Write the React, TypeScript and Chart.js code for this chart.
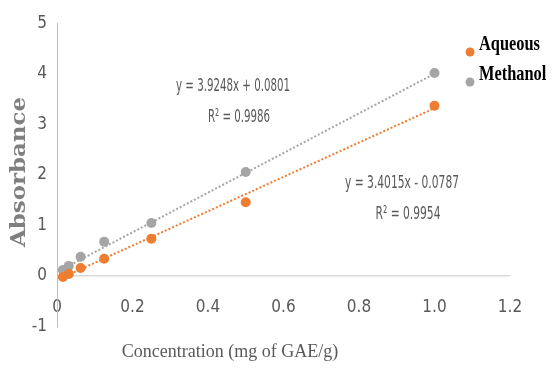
import React, { useEffect, useRef } from "react";
import { Chart, registerables } from "chart.js";

Chart.register(...registerables);

// Data
const concentrations = [0.015625, 0.03125, 0.0625, 0.125, 0.25, 0.5, 1];
const aqueousValues = [-0.02, 0.04, 0.16, 0.34, 0.74, 1.46, 3.37];
const methanolValues = [0.12, 0.2, 0.38, 0.68, 1.05, 2.06, 4.02];

const seriesLabels = ["Aqueous", "Methanol"];
const seriesColors = ["#ED7D31", "#A5A5A5"];

// Trendline coefficients as shown in the chart's equations
const aqueousFit = { slope: 3.4015, intercept: -0.0787 };
const methanolFit = { slope: 3.9248, intercept: 0.0801 };
const aqueousEquation = ["y = 3.4015x - 0.0787", "R² = 0.9954"];
const methanolEquation = ["y = 3.9248x + 0.0801", "R² = 0.9986"];

const xTitle = "Concentration (mg of GAE/g)";
const yTitle = "Absorbance";

const xTicks = { min: 0, max: 1.2, step: 0.2 };
const yTicks = { min: -1, max: 5, step: 1 };

const TICK_FAMILY = '"DejaVu Sans Condensed"';

function trend(fit: { slope: number; intercept: number }) {
  const x0 = concentrations[0];
  const x1 = concentrations[concentrations.length - 1];
  return [
    { x: x0, y: fit.slope * x0 + fit.intercept },
    { x: x1, y: fit.slope * x1 + fit.intercept },
  ];
}

const textPlugin = {
  id: "textOverlay",
  afterDraw(chart: any) {
    const ctx = chart.ctx as CanvasRenderingContext2D;

    // Y title
    ctx.save();
    ctx.translate(20, 172);
    ctx.rotate(-Math.PI / 2);
    ctx.font = 'bold 20px "DejaVu Serif"';
    ctx.fillStyle = "#7F7F7F";
    ctx.textAlign = "center";
    ctx.textBaseline = "middle";
    const w = ctx.measureText(yTitle).width;
    ctx.scale(150 / w, 1);
    ctx.fillText(yTitle, 0, 0);
    ctx.restore();

    // X title
    ctx.save();
    ctx.font = '18px "Liberation Serif"';
    ctx.fillStyle = "#595959";
    ctx.textAlign = "center";
    ctx.textBaseline = "middle";
    ctx.fillText(xTitle, 230, 352);
    ctx.restore();

    // Equations
    const drawEq = (lines: string[], cx: number, cy: number) => {
      ctx.save();
      ctx.font = '18px "DejaVu Sans Condensed"';
      ctx.fillStyle = "#595959";
      ctx.textAlign = "center";
      ctx.textBaseline = "middle";
      const s = 114 / ctx.measureText(lines[0]).width;
      ctx.save();
      ctx.translate(cx, cy);
      ctx.scale(s, 1);
      ctx.fillText(lines[0], 0, 0);
      ctx.restore();
      ctx.save();
      ctx.translate(cx + 6, cy + 31);
      ctx.scale(s, 1);
      ctx.fillText(lines[1], 0, 0);
      ctx.restore();
      ctx.restore();
    };
    drawEq(methanolEquation, 233, 86);
    drawEq(aqueousEquation, 402, 183);

    // Legend
    const legendY = [45, 75];
    seriesLabels.forEach((label, i) => {
      ctx.save();
      ctx.fillStyle = seriesColors[i];
      ctx.beginPath();
      ctx.arc(470, legendY[i] + 7, 4.5, 0, Math.PI * 2);
      ctx.fill();
      ctx.font = 'bold 21px "Liberation Serif"';
      ctx.fillStyle = "#000000";
      ctx.textAlign = "left";
      ctx.textBaseline = "middle";
      ctx.translate(479, legendY[i]);
      ctx.scale(0.78, 1);
      ctx.fillText(label, 0, 0);
      ctx.restore();
    });
  },
};

export default function App() {
  const canvasRef = useRef<HTMLCanvasElement | null>(null);

  useEffect(() => {
    document.body.style.margin = "0";
    const canvas = canvasRef.current;
    if (!canvas) return;
    const chart = new Chart(canvas, {
      type: "scatter",
      data: {
        datasets: [
          {
            label: seriesLabels[0],
            data: concentrations.map((x, i) => ({ x, y: aqueousValues[i] })),
            backgroundColor: seriesColors[0],
            borderColor: seriesColors[0],
            pointRadius: 5,
            pointBorderWidth: 0,
            showLine: false,
            order: 1,
          },
          {
            label: seriesLabels[1],
            data: concentrations.map((x, i) => ({ x, y: methanolValues[i] })),
            backgroundColor: seriesColors[1],
            borderColor: seriesColors[1],
            pointRadius: 5,
            pointBorderWidth: 0,
            showLine: false,
            order: 1,
          },
          {
            label: "Aqueous trend",
            data: trend(aqueousFit),
            borderColor: seriesColors[0],
            borderWidth: 2,
            borderDash: [2, 2],
            pointRadius: 0,
            showLine: true,
            order: 2,
          },
          {
            label: "Methanol trend",
            data: trend(methanolFit),
            borderColor: seriesColors[1],
            borderWidth: 2,
            borderDash: [2, 2],
            pointRadius: 0,
            showLine: true,
            order: 2,
          },
        ],
      },
      options: {
        responsive: false,
        animation: false,
        devicePixelRatio: 1,
        layout: { padding: { top: 23.5, bottom: 42.5, right: 42, left: 0 } },
        plugins: {
          legend: { display: false },
          tooltip: { enabled: false },
          title: { display: false },
        },
        scales: {
          x: {
            type: "linear",
            axis: "x",
            position: { y: -0.42 } as any,
            min: xTicks.min,
            max: xTicks.max,
            ticks: {
              stepSize: xTicks.step,
              padding: 0,
              color: "#595959",
              font: { family: TICK_FAMILY, size: 17 },
            },
            grid: { display: false, drawTicks: false },
            border: { display: false },
          },
          y: {
            type: "linear",
            position: "left",
            min: yTicks.min,
            max: yTicks.max,
            afterFit: (s: any) => {
              s.width = 57;
            },
            ticks: {
              stepSize: yTicks.step,
              padding: 10,
              color: "#595959",
              font: { family: TICK_FAMILY, size: 17 },
            },
            grid: {
              drawTicks: false,
              color: (c: any) => (c.tick && c.tick.value === 0 ? "#D9D9D9" : "rgba(0,0,0,0)"),
              lineWidth: 1.5,
            },
            border: { display: true, color: "#BFBFBF", width: 1 },
          },
        },
      },
      plugins: [textPlugin],
    });
    return () => chart.destroy();
  }, []);

  return (
    <div style={{ width: 552, height: 369, background: "#fff" }}>
      <canvas ref={canvasRef} width={552} height={369} />
    </div>
  );
}
